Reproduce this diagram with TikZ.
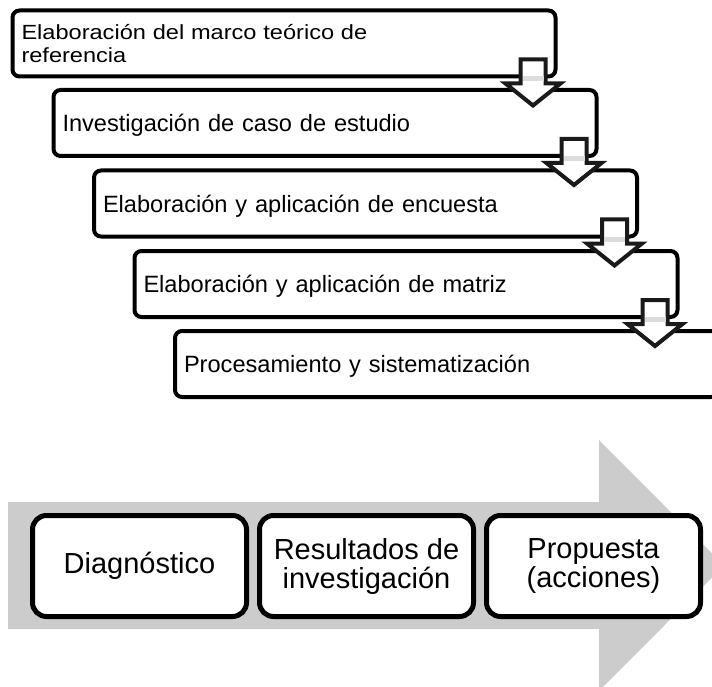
\documentclass[tikz,border=0pt]{standalone}
\usepackage{fontspec}
\setmainfont{Liberation Sans}
\newfontfamily\widefont[FakeStretch=1.15]{Liberation Sans}
\usetikzlibrary{calc}
\definecolor{bandgray}{HTML}{DCDCDC}
\definecolor{arrowgray}{HTML}{CCCCCC}
\definecolor{arrowline}{HTML}{1A1A1A}
\tikzset{
  stepbox/.style={draw=black, line width=4pt, rounded corners=7pt, fill=white,
    minimum width=543pt, minimum height=66pt, text width=525pt, align=left,
    inner xsep=9pt, inner ysep=0pt, text depth=0pt,
    font=\fontsize{23.6}{27}\selectfont, anchor=center},
  phasebox/.style={draw=black, line width=5pt, rounded corners=14pt, fill=white,
    minimum width=214pt, minimum height=101pt, align=center, inner sep=0pt,
    font=\fontsize{29}{29}\selectfont},
  hollowarrow/.style={draw=arrowline, line width=4pt, fill=white, line join=miter},
}
\newcommand{\downblock}[1]{%
  \path[hollowarrow] (#1) ++(-12.5,0) -- ++(0,24) -- ++(-15,0) -- ++(27.5,22)
    -- ++(27.5,-22) -- ++(-15,0) -- ++(0,-24) -- cycle;
  \fill[bandgray] ($(#1)+(-10.5,17)$) rectangle ++(21,5);
}
\begin{document}
\begin{tikzpicture}[x=1pt, y=-1pt]
\useasboundingbox (0,0) rectangle (712,687);

% top cascade of steps
\node[stepbox, text depth=22.7pt, font=\widefont\fontsize{20.5}{22.7}\selectfont] (b1) at (284,43.5) {Elaboración del marco teórico de\\referencia};
\node[stepbox] (b2) at (325,123) {Investigación de caso de estudio};
\node[stepbox] (b3) at (365.5,203.5) {Elaboración y aplicación de encuesta};
\node[stepbox] (b4) at (406,284) {Elaboración y aplicación de matriz};
\node[stepbox] (b5) at (446.5,364) {Procesamiento y sistematización};

\coordinate (a1) at ($(b1.south -| b1.east)+(-24.5,-19)$);
\coordinate (a2) at ($(b2.south -| b2.east)+(-24.5,-19)$);
\coordinate (a3) at ($(b3.south -| b3.east)+(-24.5,-19)$);
\coordinate (a4) at ($(b4.south -| b4.east)+(-24.5,-19)$);
\downblock{a1}
\downblock{a2}
\downblock{a3}
\downblock{a4}

% bottom process arrow
\fill[arrowgray] (8,502) -- (599,502) -- (599,440) -- (724,565.5) -- (599,691)
  -- (599,629) -- (8,629) -- cycle;

\node[phasebox] (p1) at (139.5,566) {Diagnóstico};
\node[phasebox] (p2) at (366.5,566) {Resultados de\\investigación};
\node[phasebox] (p3) at (593.5,566) {Propuesta\\(acciones)};
\end{tikzpicture}
\end{document}
